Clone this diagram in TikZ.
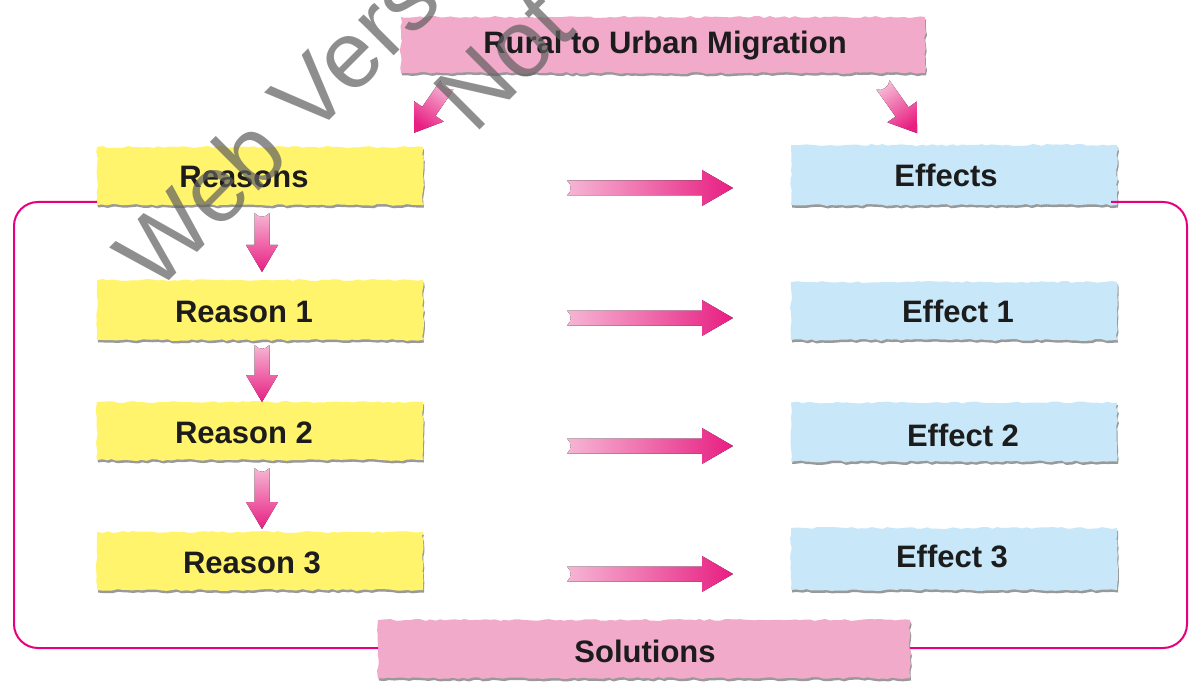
\documentclass[tikz,border=0pt]{standalone}
\usepackage{fontspec}
\setmainfont{Liberation Sans}
\usetikzlibrary{calc,decorations.pathmorphing,shadows}
\definecolor{boxyellow}{RGB}{255,244,108}
\definecolor{boxblue}{RGB}{200,232,250}
\definecolor{boxpink}{RGB}{242,170,203}
\definecolor{loopmag}{RGB}{230,0,126}
\definecolor{arrlight}{RGB}{246,182,212}
\definecolor{arrdark}{RGB}{232,30,130}
\definecolor{txtdark}{RGB}{28,28,28}
\definecolor{wmgray}{RGB}{95,95,95}
% #1 start, #2 rotation, #3 length, #4 head length, #5 shaft half width, #6 head half width, #7 fill options
\newcommand{\blockarr}[7]{%
  \fill[#7, shift={#1}, rotate=#2] (0,#5) -- ({#3-#4},#5) -- ({#3-#4},#6) -- (#3,0)
    -- ({#3-#4},{-#6}) -- ({#3-#4},{-#5}) -- (0,{-#5})
    .. controls (5,{-#5/2}) and (5,{#5/2}) .. (0,#5) -- cycle;}
\begin{document}
\begin{tikzpicture}[x=1pt,y=-1pt,
  tornbox/.style={rectangle, inner sep=0pt, outer sep=0pt, fill=#1, decorate,
    decoration={random steps, segment length=5pt, amplitude=1pt},
    general shadow={fill=black!40, shadow xshift=1pt, shadow yshift=-2.5pt}},
  lbl/.style={font=\fontsize{31}{36}\selectfont\bfseries, text=txtdark, inner sep=0pt, anchor=base},
  loopline/.style={draw=loopmag, line width=2pt, rounded corners=24pt},
  wm/.style={font=\fontsize{95}{105}\selectfont, text=wmgray, opacity=0.7, rotate=45, anchor=base west, inner sep=0pt}
]
\pgfmathsetseed{7}
\fill[white] (0,0) rectangle (1192,687);
\useasboundingbox (0,0) rectangle (1192,687);

% boxes
\node[tornbox=boxpink, minimum width=524pt, minimum height=56pt] (tb) at (663,45) {};
\node[tornbox=boxyellow, minimum width=326pt, minimum height=58pt] (rb0) at (260,176) {};
\node[tornbox=boxyellow, minimum width=326pt, minimum height=60pt] (rb1) at (260,310) {};
\node[tornbox=boxyellow, minimum width=326pt, minimum height=58pt] (rb2) at (260,431) {};
\node[tornbox=boxyellow, minimum width=326pt, minimum height=58pt] (rb3) at (260,561) {};
\node[tornbox=boxblue, minimum width=326pt, minimum height=60pt] (eb0) at (954,175) {};
\node[tornbox=boxblue, minimum width=326pt, minimum height=58pt] (eb1) at (954,311) {};
\node[tornbox=boxblue, minimum width=326pt, minimum height=59pt] (eb2) at (954,432) {};
\node[tornbox=boxblue, minimum width=326pt, minimum height=62pt] (eb3) at (954,559) {};
\node[tornbox=boxpink, minimum width=532pt, minimum height=58pt] (sb) at (644,649) {};

% labels
\node[lbl] (tt) at (665,54) {Rural to Urban Migration};
\node[lbl] (r0) at (244,188) {Reasons};
\node[lbl] (r1) at (244,322) {Reason 1};
\node[lbl] (r2) at (244,443) {Reason 2};
\node[lbl] (r3) at (252,573) {Reason 3};
\node[lbl] (e0) at (946,187) {Effects};
\node[lbl] (e1) at (958,322) {Effect 1};
\node[lbl] (e2) at (963,446) {Effect 2};
\node[lbl] (e3) at (952,567) {Effect 3};
\node[lbl] (st) at (645,662) {Solutions};

% loop line
\coordinate (lc) at (14,648);
\coordinate (rc) at (1187,648);
\draw[loopline] ($(rb0.south west)+(0,-3)$) -| (lc) -- (sb.west |- lc);
\draw[loopline] ($(eb0.south east)+(-6,-3)$) -| (rc) -- (sb.east |- rc);

% arrows from top box
\blockarr{($(tb.south west)+(46,12)$)}{-124.5}{58}{26}{8}{18}{top color=arrlight,bottom color=arrdark,shading angle=-35}
\blockarr{($(tb.south east)+(-42,12)$)}{-54.7}{59}{26}{8}{18}{top color=arrlight,bottom color=arrdark,shading angle=35}

% reasons chain
\blockarr{($(rb0.south)+(2,8)$)}{-90}{59}{27}{7.5}{16}{top color=arrlight,bottom color=arrdark}
\blockarr{($(rb1.south)+(2,5)$)}{-90}{57}{27}{7.5}{16}{top color=arrlight,bottom color=arrdark}
\blockarr{($(rb2.south)+(2,8)$)}{-90}{61}{27}{7.5}{16}{top color=arrlight,bottom color=arrdark}

% reason -> effect arrows
\blockarr{($(rb0.east)+(144,12)$)}{0}{166}{31}{7.5}{18}{left color=arrlight,right color=arrdark}
\blockarr{($(rb1.east)+(144,8)$)}{0}{166}{31}{7.5}{18}{left color=arrlight,right color=arrdark}
\blockarr{($(rb2.east)+(144,15)$)}{0}{166}{31}{7.5}{18}{left color=arrlight,right color=arrdark}
\blockarr{($(rb3.east)+(144,13)$)}{0}{166}{31}{7.5}{18}{left color=arrlight,right color=arrdark}

% watermark
\node[wm] (wm1) at (155,295) {Web Version};
\node[wm] (wm2) at (474,136) {Not};
\end{tikzpicture}
\end{document}
